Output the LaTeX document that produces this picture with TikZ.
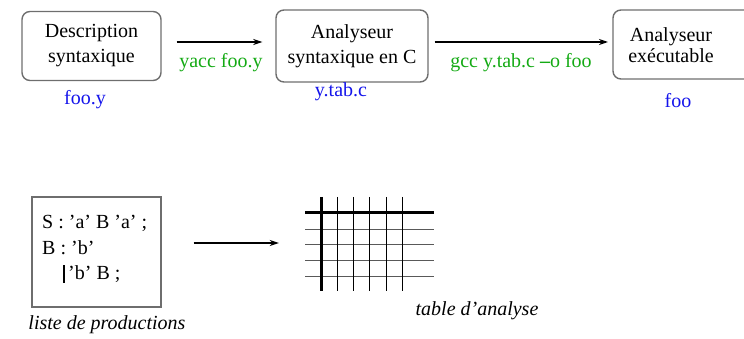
\documentclass[tikz,border=0pt]{standalone}
\usepackage{fontspec}
\setmainfont{Liberation Serif}
\usetikzlibrary{arrows.meta,calc}
\definecolor{cmdgreen}{RGB}{20,170,20}
\definecolor{fileblue}{RGB}{20,20,235}
\definecolor{boxgray}{RGB}{110,110,110}
\tikzset{
  procbox/.style={draw=boxgray, line width=1.4pt, rounded corners=8pt, inner sep=0pt},
  txt/.style={font=\fontsize{20}{25}\selectfont, inner sep=0pt},
  cmd/.style={txt, text=cmdgreen, anchor=base},
  file/.style={txt, text=fileblue, anchor=base},
  arr/.style={line width=1.4pt, -{Stealth[length=9pt,width=6pt]}},
  thickline/.style={line width=3pt},
  thinv/.style={line width=1pt},
  thinh/.style={line width=1pt, black!65},
}
\begin{document}
\begin{tikzpicture}[x=1pt,y=-1pt]
\useasboundingbox (0,0) rectangle (744,339);
\clip (0,0) rectangle (744,339);

% top row
\node[procbox, txt, align=center, minimum width=139pt, minimum height=69pt] (b1) at (91.5,46) {Description\\syntaxique};
\node[procbox, txt, align=center, minimum width=152pt, minimum height=72pt] (b2) at (352,46) {Analyseur\\syntaxique en C};
\draw[draw=boxgray, line width=1.4pt, rounded corners=8pt] (613,10) rectangle (760,79);
\node[txt, align=center, font=\fontsize{20}{21}\selectfont] (b3) at (671,45) {Analyseur\\exécutable};
\coordinate (b3w) at (613,42);

\draw[arr] ([shift={(15,-4)}]b1.east) -- ([shift={(-13,-4)}]b2.west);
\draw[arr] ([shift={(6,-4)}]b2.east) -- ([xshift=-5]b3w);

\node[cmd] (c1) at (221,68) {yacc foo.y};
\node[cmd] (c2) at (521,68) {gcc y.tab.c {\bfseries –}o foo};
\node[file] (f1) at (85,105) {foo.y};
\node[file] (f2) at (341,97) {y.tab.c};
\node[file] (f3) at (678,108) {foo};

% bottom row
\node[draw=boxgray, line width=1.2pt, minimum width=129pt, minimum height=110pt, inner sep=0pt] (prod) at (96.5,252) {};
\node[txt, anchor=base west] (l1) at (42,229) {S : ’a’ B ’a’ ;};
\node[txt, anchor=base west] (l2) at (42,254) {B : ’b’};
\node[txt, anchor=base west] (l3) at (68,279) {’b’ B ;};
\draw[line width=2pt] (64,265) -- (64,283);

\node[txt, anchor=base, font=\fontsize{20}{25}\selectfont\itshape] (cap1) at (107,329) {liste de productions};

\node[minimum width=129pt, minimum height=94pt, inner sep=0pt] (grid) at (369.5,244) {};
\draw[arr] ([shift={(32,-9)}]prod.east) -- ([shift={(-26,-1)}]grid.west);

\foreach \y in {229,244,260,276} \draw[thinh] (305,\y) -- (434,\y);
\foreach \x in {337,353,369,386,402} \draw[thinv] (\x,197) -- (\x,291);
\draw[thickline] (305,213) -- (434,213);
\draw[thickline] (321,197) -- (321,291);

\node[txt, anchor=base, font=\fontsize{20}{25}\selectfont\itshape] (cap2) at (477,315) {table d’analyse};
\end{tikzpicture}
\end{document}
